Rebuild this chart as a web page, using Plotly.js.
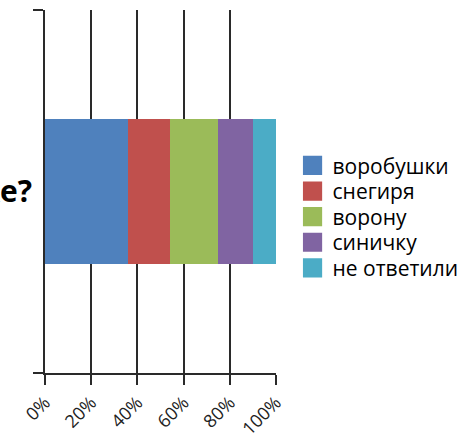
<!DOCTYPE html>
<html>
<head>
<meta charset="utf-8">
<script src="https://cdn.plot.ly/plotly-3.0.1.min.js"></script>
<style>html,body{margin:0;padding:0;background:#fff;}#chart{width:473px;height:447px;}</style>
</head>
<body>
<div id="chart"></div>
<script>
const category = ["Какую птицу вы видели на кормушке?"];
const seriesNames = ["воробушки", "снегиря", "ворону", "синичку", "не ответили"];
const seriesValues = [36, 18, 21, 15, 10];
const seriesColors = ["#4F81BD", "#C0504D", "#9BBB59", "#8064A2", "#4BACC6"];
const tickValues = [0, 20, 40, 60, 80, 100];
const tickLabels = ["0%", "20%", "40%", "60%", "80%", "100%"];

const total = seriesValues.reduce((a, b) => a + b, 0);
const traces = seriesNames.map((name, i) => ({
  type: "bar",
  orientation: "h",
  name: name,
  y: category,
  x: [seriesValues[i] / total * 100],
  marker: {color: seriesColors[i], line: {width: 0}},
  width: 0.4,
  hoverinfo: "name+x"
}));

const layout = {
  width: 473, height: 447,
  barmode: "stack",
  margin: {l: 45, r: 196, t: 10, b: 74},
  paper_bgcolor: "#fff", plot_bgcolor: "#fff",
  font: {family: "Open Sans, DejaVu Sans, sans-serif", color: "#000"},
  showlegend: true,
  legend: {
    x: 1.067, xanchor: "left", y: 0.43, yanchor: "middle",
    traceorder: "normal",
    font: {size: 21, color: "#000"},
    tracegroupgap: 0,
    bgcolor: "rgba(0,0,0,0)"
  },
  xaxis: {
    range: [0, 100],
    tickvals: tickValues, ticktext: tickLabels,
    tickangle: -45,
    tickfont: {size: 18, color: "#222"},
    ticks: "outside", ticklen: 10, tickwidth: 2, tickcolor: "#2a2a2a",
    showgrid: true, gridcolor: "#2a2a2a", gridwidth: 2,
    showline: true, linecolor: "#2a2a2a", linewidth: 2,
    zeroline: false, fixedrange: true
  },
  yaxis: {
    type: "category",
    range: [-0.5, 0.5],
    tickson: "boundaries",
    ticks: "outside", ticklen: 10, tickwidth: 2, tickcolor: "#2a2a2a",
    tickfont: {family: "Open Sans, DejaVu Sans, sans-serif", size: 30, color: "#000", weight: 700},
    ticklabelstandoff: 5,
    showgrid: false,
    showline: true, linecolor: "#2a2a2a", linewidth: 2,
    automargin: false, zeroline: false, fixedrange: true
  }
};

Plotly.newPlot("chart", traces, layout, {displayModeBar: false, staticPlot: true}).then(() => {
  document.querySelectorAll("#chart .legend .legendpoints path").forEach(p => {
    const t = p.getAttribute("transform") || "";
    p.setAttribute("transform", t + " scale(1.6)");
  });
  // tighten legend row spacing to match the reference
  const items = Array.from(document.querySelectorAll("#chart .legend .traces"));
  const pos = items.map(g => {
    const m = /translate\(\s*([-\d.]+)[ ,]+([-\d.]+)\s*\)/.exec(g.getAttribute("transform") || "");
    return m ? [parseFloat(m[1]), parseFloat(m[2])] : [0, 0];
  });
  if (items.length) {
    const mid = Math.floor(items.length / 2);
    const gap = 25.6;
    items.forEach((g, i) => {
      g.setAttribute("transform", "translate(" + pos[i][0] + "," + (pos[mid][1] + (i - mid) * gap) + ")");
    });
  }
});
</script>
</body>
</html>
